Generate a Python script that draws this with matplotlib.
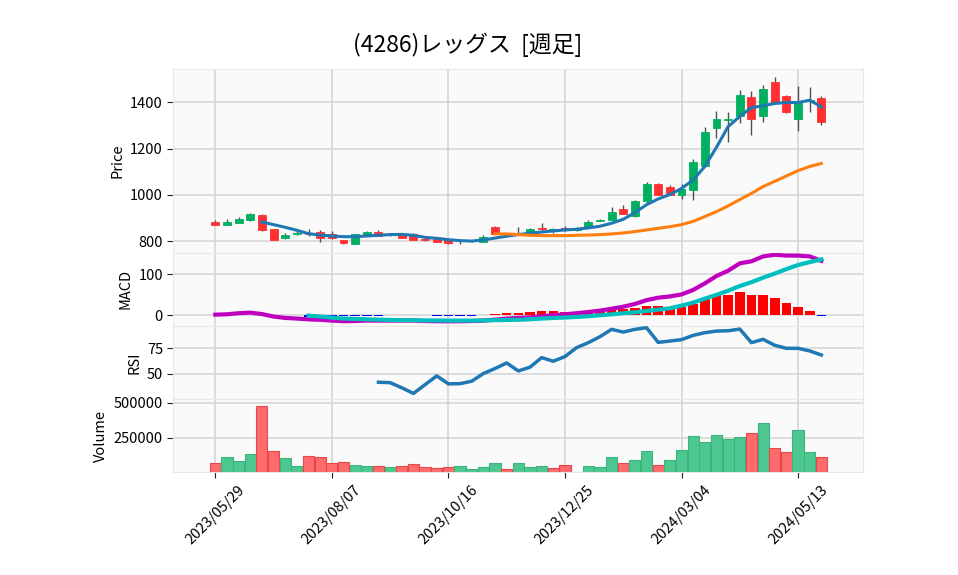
import matplotlib
matplotlib.use("Agg")
import matplotlib.pyplot as plt
import numpy as np
import pandas as pd

plt.rcParams['font.family'] = ['Noto Sans CJK JP', 'DejaVu Sans']

title = "(4286)レッグス  [週足]"
dates = pd.date_range("2023-05-29", periods=53, freq="W-MON")

opens = [883, 872, 879, 891, 914, 853, 816, 830, 833, 840, 832, 806, 790, 824, 840, 829, 832, 830,
         810, 810, 806, 801, 801, 799, 860, 832, 830, 835, 858, 846, 858, 850, 863, 888, 892, 940,
         911, 976, 1048, 1035, 1000, 1023, 1123, 1287, 1325, 1339, 1424, 1339, 1487, 1429, 1330,
         1404, 1418]
highs = [892, 898, 904, 922, 918, 853, 836, 850, 855, 850, 843, 806, 832, 845, 848, 836, 838, 838,
         813, 812, 808, 805, 805, 826, 866, 838, 862, 856, 878, 858, 864, 860, 892, 895, 948, 955,
         980, 1055, 1052, 1043, 1048, 1154, 1295, 1364, 1360, 1451, 1448, 1474, 1508, 1432, 1469,
         1464, 1427]
lows = [869, 869, 877, 889, 843, 807, 809, 828, 825, 797, 810, 790, 790, 822, 822, 824, 814, 805,
        803, 797, 790, 790, 797, 797, 830, 822, 834, 834, 842, 836, 846, 846, 860, 886, 890, 918,
        906, 966, 998, 1000, 984, 977, 1120, 1245, 1230, 1310, 1259, 1316, 1398, 1352, 1278, 1358,
        1300]
closes = [872, 883, 896, 917, 850, 807, 828, 837, 831, 816, 814, 794, 832, 840, 824, 833, 816, 807,
          806, 799, 794, 802, 803, 817, 832, 828, 838, 852, 855, 852, 850, 858, 882, 892, 927, 920,
          974, 1048, 1000, 1002, 1025, 1143, 1272, 1327, 1329, 1431, 1326, 1457, 1400, 1360, 1405,
          1408, 1313]
volumes = [71400, 114300, 85700, 135700, 478600, 157100, 102400, 45200, 121400, 114300, 71400,
           78600, 57100, 45200, 50000, 38100, 45200, 64300, 38100, 31000, 38100, 45200, 23800,
           38100, 66700, 23800, 66700, 38100, 45200, 31000, 57100, 7100, 45200, 38100, 109500,
           66700, 88100, 152400, 57100, 88100, 159500, 259500, 216700, 266700, 240500, 252400,
           281000, 352400, 173800, 145200, 302400, 145200, 109500]

# 5-week line (from bar 4) and 25-week line (from bar 24)
ma_short = [883.5, 872, 860.5, 847.5, 833, 827, 823, 820, 820, 823, 826, 829, 830, 826, 817, 813,
            807, 803, 801, 806, 814, 822, 829, 835, 840, 845, 849, 852, 858, 865, 878, 895, 924,
            958, 983, 1002, 1028, 1065, 1123, 1206, 1295, 1339, 1377, 1385, 1395, 1399, 1399,
            1409, 1380]
ma_long = [832, 832, 829, 826, 824.5, 824.5, 824.5, 826, 827, 829, 832, 836, 842, 849, 856, 863,
           872, 886, 907, 928, 953, 980, 1007, 1036, 1059, 1082, 1105, 1123, 1136]

macd = [1.6, 2.4, 5, 6.5, 3, -3, -6.5, -8, -10, -11, -13, -14.6, -14, -13, -13, -13, -13, -13, -14,
        -14.6, -14.6, -14.6, -14, -13, -10.6, -8, -6.5, -5, -2.4, 0, 2.4, 5, 8, 11.4, 16, 21, 27.6,
        37, 43, 46, 51, 62, 78, 96, 109, 127, 132, 144, 148, 146, 146, 144, 133]
signal = [-0.8, -3, -5.7, -8, -9, -10, -10.6, -11.4, -12, -12, -12.6, -12.6, -13, -13, -13, -12.6,
          -12, -11.4, -11, -9.8, -8, -6.5, -5.5, -4, -2.4, 0, 2.4, 5, 7.3, 10.6, 13.8, 17, 23.6,
          31, 40.7, 50, 60, 71.5, 81, 92, 102, 113, 123, 130, 136.6]
hist = [-3, -2.5, -2.5, -2.5, -2.5, -2, -2, -0.5, -0.5, -0.5, -0.5, -2, -2, -2, -2, -0.5, 3, 5.7,
        5.7, 8, 10.6, 10.6, 8, 7, 8, 10, 12, 14.6, 18, 23, 23, 19.5, 21, 28.5, 39, 49, 50.4, 57,
        50.4, 50.4, 43, 31, 20, 10.6, -1]

rsi = [41.4, 41, 35.9, 30.3, 39, 47.7, 39.8, 40, 42.4, 50, 55, 60.5, 52.6, 56.3, 65.8, 62.2, 66.8,
       75.7, 80.6, 86.5, 93.8, 91.1, 93.8, 95.4, 80.9, 82.2, 83.6, 87.8, 90.5, 92.1, 92.4, 94.1,
       80.6, 83.9, 78, 75, 75, 72.4, 68.4]

up_c, down_c = "#00b060", "#fe3032"
vup_c, vdown_c = "#4dc790", "#fd6b6c"
face = "#fafafa"
grid_c = "#d3d3d3"

n = len(closes)
x = np.arange(n)
o = np.array(opens)
c = np.array(closes)

fig = plt.figure(figsize=(9.58, 5.75), dpi=100)
left, width = 0.1809, 0.7203
ax_p = fig.add_axes([left, 0.5605, width, 0.3190])
ax_m = fig.add_axes([left, 0.4339, width, 0.1266], sharex=ax_p)
ax_r = fig.add_axes([left, 0.3061, width, 0.1278], sharex=ax_p)
ax_v = fig.add_axes([left, 0.1786, width, 0.1275], sharex=ax_p)
axes = [ax_p, ax_m, ax_r, ax_v]

# candles
cols = np.where(c >= o, up_c, down_c)
ax_p.vlines(x, lows, highs, color="#505050", lw=1.0, zorder=2)
body_lo = np.minimum(o, c)
body_h = np.maximum(np.abs(c - o), 0.8)
ax_p.bar(x, body_h, bottom=body_lo, width=0.68, color=cols, edgecolor=cols, lw=0.6, zorder=3)
ax_p.plot(x[4:], ma_short, color="#1f77b4", lw=2.2, zorder=4)
ax_p.plot(x[24:], ma_long, color="#ff7f0e", lw=2.2, zorder=4)
ax_p.set_ylim(750.8, 1542.4)
ax_p.set_yticks([800, 1000, 1200, 1400])
ax_p.set_ylabel("Price")

# MACD
h = np.array(hist)
ax_m.bar(x[8:], h, width=0.82, color=np.where(h >= 0, "r", "b"), zorder=2)
ax_m.plot(x, macd, color="m", lw=3, zorder=3)
ax_m.plot(x[8:], signal, color="c", lw=3, zorder=4)
ax_m.set_ylim(-25, 153)
ax_m.set_yticks([0, 100])
ax_m.set_ylabel("MACD")

# RSI
ax_r.plot(x[14:], rsi, color="#1f77b4", lw=2.5, zorder=3)
ax_r.set_ylim(24.8, 97.6)
ax_r.set_yticks([50, 75])
ax_r.set_ylabel("RSI")

# volume, coloured by change from previous close
vcols = [vdown_c] + [vup_c if c[i] >= c[i - 1] else vdown_c for i in range(1, n)]
vedge = ["#e8474a" if v == vdown_c else "#3cb47e" for v in vcols]
ax_v.bar(x, volumes, width=0.96, color=vcols, edgecolor=vedge, lw=0.8, zorder=2)
ax_v.set_ylim(0.3 * min(volumes), 1.1 * max(volumes))
ax_v.set_yticks([250000, 500000])
ax_v.set_yticklabels(["250000", "500000"])
ax_v.set_ylabel("Volume")

ticks = list(range(0, n, 10))
for ax in axes:
    ax.set_facecolor(face)
    ax.grid(True, color=grid_c, lw=1.1, zorder=0)
    ax.set_axisbelow(True)
    for s in ax.spines.values():
        s.set_color("#e8e8e8")
    ax.tick_params(axis="y", labelsize=10.5, length=4, color="#222222")
    ax.yaxis.label.set_size(10.5)
    ax.set_xlim(-3.6, 55.6)
    ax.set_xticks(ticks)
    if ax is not ax_v:
        ax.tick_params(axis="x", labelbottom=False, length=0)

ax_v.set_xticklabels([dates[i].strftime("%Y/%m/%d") for i in ticks], rotation=45, ha="center")
ax_v.tick_params(axis="x", labelsize=10.5, length=4, color="#222222")

fig.text(0.488, 0.922, title, ha="center", va="center", fontsize=16.5)

fig.savefig("out.png", dpi=100)
